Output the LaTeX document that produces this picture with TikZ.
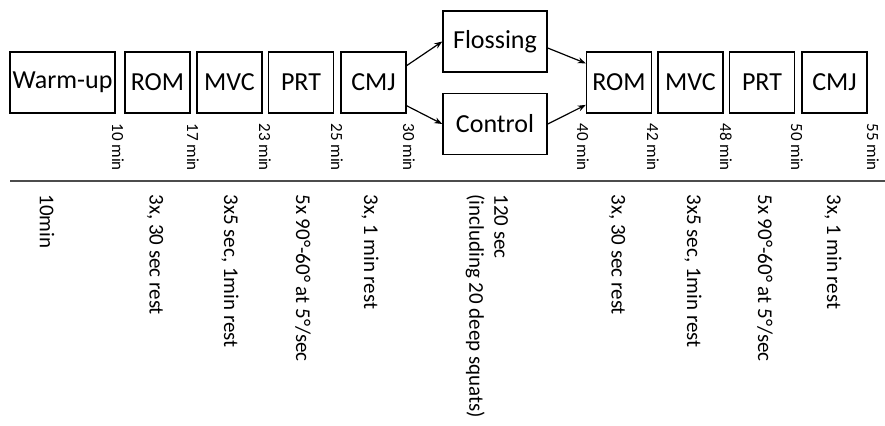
\documentclass[tikz,border=0pt]{standalone}
\usepackage{fontspec}
\setmainfont{Carlito}
\usepackage{tikz}
\usetikzlibrary{arrows.meta, positioning}

\begin{document}
\begin{tikzpicture}[x=0.5pt,y=-0.5pt,
 stage/.style={rectangle,draw=black,line width=0.7pt,inner sep=0pt,
   minimum height=30.5pt,font=\fontsize{13}{15}\selectfont},
 small/.style={stage,minimum width=32.5pt},
 wide/.style={stage,minimum width=52.5pt},
 flow/.style={-{Stealth[length=4pt,width=3pt]},line width=0.6pt},
 tick/.style={rotate=-90,anchor=west,inner sep=0pt,font=\fontsize{8.5}{10}\selectfont},
 note/.style={rotate=-90,anchor=west,inner sep=0pt,align=left,
   font=\fontsize{10.5}{12.5}\selectfont}]
 \useasboundingbox (0,0) rectangle (885,425);
 % pre-test
 \node[wide]  (warmup) at (62.5,82.5) {Warm-up};
 \node[small] (romA)   at (157.5,82.5) {ROM};
 \node[small] (mvcA)   at (229.5,82.5) {MVC};
 \node[small] (prtA)   at (301,82.5) {PRT};
 \node[small] (cmjA)   at (373.5,82.5) {CMJ};
 % intervention
 \node[wide,minimum width=52pt] (floss)   at (495,41.5) {Flossing};
 \node[wide,minimum width=52pt] (control) at (495,124) {Control};
 % post-test
 \node[small] (romB) at (619,82.5) {ROM};
 \node[small] (mvcB) at (690.5,82.5) {MVC};
 \node[small] (prtB) at (762,82.5) {PRT};
 \node[small] (cmjB) at (834.5,82.5) {CMJ};
 \draw[flow] (cmjA.27) -- (floss.west);
 \draw[flow] (cmjA.-35) -- (control.west);
 \draw[flow] (floss.-7) -- (romB.150);
 \draw[flow] (control.east) -- (romB.214);
 % time marks
 \foreach \x/\t [count=\i] in {118/10,193/17,265/23,337/25,409/30,
   583/40,653/42,726/48,797/50,873/55}
   \node[tick] (time\i) at (\x,123) {\t{} min};
 % time line
 \coordinate (lineL) at (10,181);
 \coordinate (lineR) at (885,181);
 \draw[line width=1.1pt,black!70] (lineL) -- (lineR);
 % protocol details
 \foreach \x/\t [count=\i] in {47/10min,155/{3x, 30 sec rest},
   230/{3x5 sec, 1min rest},303/{5x 90°-60° at 5°/sec},370/{3x, 1 min rest},
   487/{120 sec\\(including 20 deep squats)},
   617/{3x, 30 sec rest},693/{3x5 sec, 1min rest},
   765/{5x 90°-60° at 5°/sec},833/{3x, 1 min rest}}
   \node[note] (note\i) at (\x,194) {\t};
\end{tikzpicture}
\end{document}
